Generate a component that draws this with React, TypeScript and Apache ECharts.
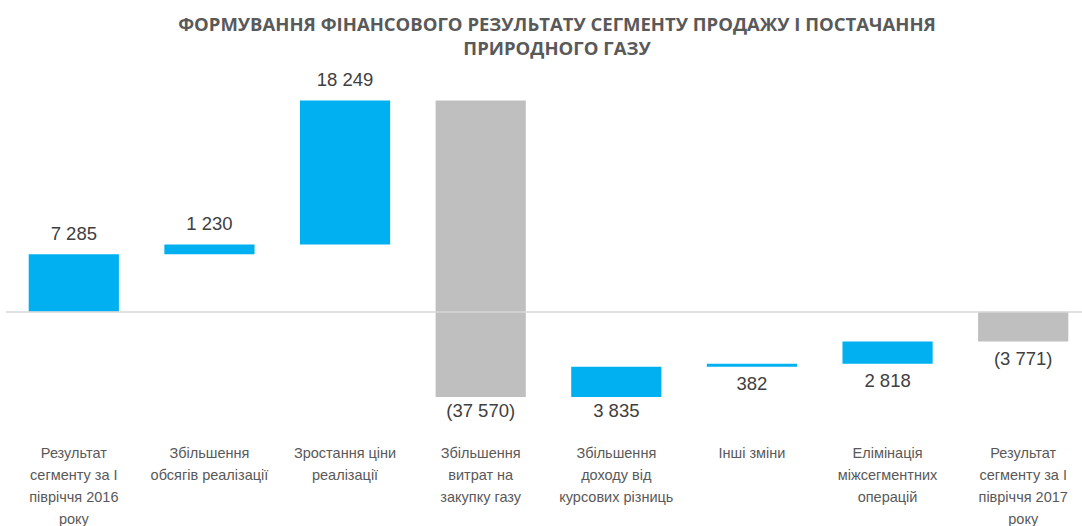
import React, { useEffect, useRef } from "react";
import * as echarts from "echarts";

const categories = [
  "Результат\nсегменту за І\nпівріччя 2016\nроку",
  "Збільшення\nобсягів реалізації",
  "Зростання ціни\nреалізації",
  "Збільшення\nвитрат на\nзакупку газу",
  "Збільшення\nдоходу від\nкурсових різниць",
  "Інші зміни",
  "Елімінація\nміжсегментних\nоперацій",
  "Результат\nсегменту за І\nпівріччя 2017\nроку",
];
const deltas = [7285, 1230, 18249, -37570, 3835, 382, 2818, -3771];
const isTotal = [true, false, false, false, false, false, false, true];

const TITLE =
  "ФОРМУВАННЯ ФІНАНСОВОГО РЕЗУЛЬТАТУ СЕГМЕНТУ ПРОДАЖУ І ПОСТАЧАННЯ\nПРИРОДНОГО ГАЗУ";

const FONT = "'Liberation Sans', Arial, sans-serif";

function fmt(v: number): string {
  const a = Math.abs(v)
    .toString()
    .replace(/\B(?=(\d{3})+(?!\d))/g, " ");
  return v < 0 ? `(${a})` : a;
}

export default function App() {
  const ref = useRef<HTMLDivElement>(null);
  useEffect(() => {
    if (!ref.current) return;
    const chart = echarts.init(ref.current, undefined, { renderer: "svg" });
    let run = 0;
    const data = deltas.map((d, i) => {
      let s: number, e: number;
      if (isTotal[i]) {
        s = 0;
        e = d;
        run = d;
      } else {
        s = run;
        e = run + d;
        run = e;
      }
      return [i, s, e, d];
    });
    chart.setOption({
      animation: false,
      title: {
        text: TITLE,
        left: 557,
        top: 11,
        padding: 0,
        textAlign: "center",
        textStyle: {
          fontFamily: "'Open Sans', sans-serif",
          fontSize: 18.5,
          fontWeight: "bold",
          color: "#595959",
          lineHeight: 24,
        },
      },
      grid: { left: 6, width: 1085, top: 75, height: 363, outerBoundsMode: "none", containLabel: false },
      xAxis: {
        type: "category",
        data: categories,
        axisLine: { show: false },
        axisTick: { show: false },
        axisLabel: {
          interval: 0,
          margin: 4,
          color: "#595959",
          fontFamily: FONT,
          fontSize: 14.5,
          lineHeight: 22,
        },
      },
      yAxis: {
        type: "value",
        min: -16000,
        max: 30000,
        show: false,
        splitLine: { show: false },
      },
      series: [
        {
          type: "custom",
          data,
          encode: { x: 0, y: [1, 2] },
          renderItem: (params: any, api: any) => {
            const i = api.value(0);
            const s = api.value(1);
            const e = api.value(2);
            const d = api.value(3);
            const p1 = api.coord([i, s]);
            const p2 = api.coord([i, e]);
            const w = api.size([1, 0])[0] * 0.665;
            const top = Math.min(p1[1], p2[1]);
            const bot = Math.max(p1[1], p2[1]);
            const below = Math.min(s, e) < 0;
            const ly = below ? Math.min(bot + 17, 410) : top - 21;
            return {
              type: "group",
              children: [
                {
                  type: "rect",
                  shape: { x: p1[0] - w / 2, y: top, width: w, height: Math.max(bot - top, 1) },
                  style: { fill: d >= 0 ? "#00B0F0" : "#BFBFBF" },
                },
                {
                  type: "text",
                  x: p1[0],
                  y: ly,
                  style: {
                    text: fmt(d),
                    align: "center",
                    verticalAlign: "middle",
                    fill: "#404040",
                    fontSize: 18.5,
                    fontFamily: FONT,
                  },
                },
              ],
            };
          },
          markLine: {
            silent: true,
            symbol: "none",
            label: { show: false },
            lineStyle: { color: "#D9D9D9", width: 1.5, type: "solid" },
            data: [{ yAxis: 0 }],
          },
        },
      ],
    });
    return () => chart.dispose();
  }, []);
  return (
    <div
      ref={ref}
      style={{ position: "absolute", left: 0, top: 0, width: 1082, height: 526 }}
    />
  );
}
